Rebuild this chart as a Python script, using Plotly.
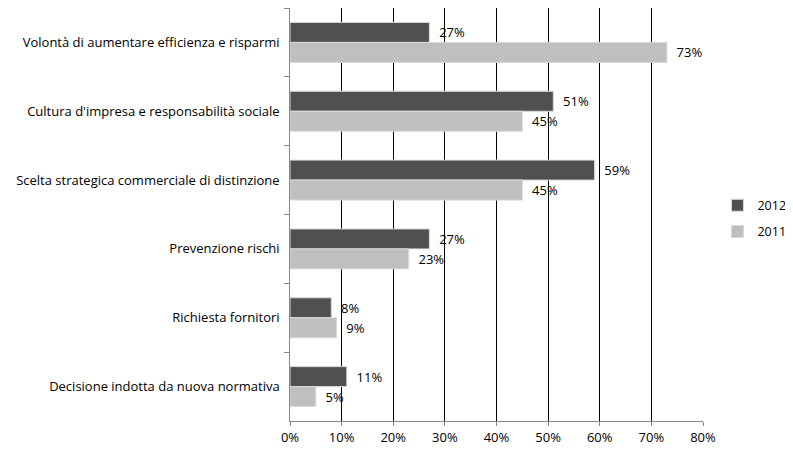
import plotly.graph_objects as go

categorie = [
    "Volontà di aumentare efficienza e risparmi",
    "Cultura d'impresa e responsabilità sociale",
    "Scelta strategica commerciale di distinzione",
    "Prevenzione rischi",
    "Richiesta fornitori",
    "Decisione indotta da nuova normativa",
]
valori_2012 = [27, 51, 59, 27, 8, 11]
valori_2011 = [73, 45, 45, 23, 9, 5]
tick_x = [0, 10, 20, 30, 40, 50, 60, 70, 80]

fig = go.Figure()
fig.add_trace(go.Bar(
    y=categorie, x=valori_2012, name="2012", orientation="h", legendgroup="a",
    marker=dict(color="#505050", line=dict(color="#d9d9d9", width=1)),
    text=[f"\u00a0\u00a0{v}%" for v in valori_2012],
    textposition="outside", cliponaxis=False,
))
fig.add_trace(go.Bar(
    y=categorie, x=valori_2011, name="2011", orientation="h", legendgroup="b",
    marker=dict(color="#bfbfbf", line=dict(color="#d9d9d9", width=1)),
    text=[f"\u00a0\u00a0{v}%" for v in valori_2011],
    textposition="outside", cliponaxis=False,
))

# la pagina ha un margine di 8px: figura ridotta di conseguenza
fig.update_layout(
    width=785, height=443,
    margin=dict(l=282, r=90, t=0, b=30, autoexpand=False),
    paper_bgcolor="white", plot_bgcolor="white",
    font=dict(family="Open Sans", size=13, color="black"),
    barmode="group", bargap=0.42, bargroupgap=0,
    uniformtext=dict(minsize=12, mode="show"),
    legend=dict(x=1.035, y=0.49, xanchor="left", yanchor="middle",
                traceorder="grouped", font=dict(size=12.5),
                itemwidth=30, tracegroupgap=7),
)
fig.update_xaxes(
    range=[0, 80], tickvals=tick_x, ticktext=[f"{v}%" for v in tick_x],
    showgrid=True, gridcolor="black", gridwidth=1,
    showline=True, linecolor="#868686", linewidth=1,
    ticks="outside", ticklen=4, tickcolor="#868686",
    zeroline=False, fixedrange=True, automargin=False,
)
fig.update_yaxes(
    autorange="reversed", showgrid=False,
    showline=True, linecolor="#868686", linewidth=1,
    ticks="outside", ticklen=5, tickcolor="#868686", tickson="boundaries",
    ticksuffix="  ", automargin=False,
)

fig.write_html("out.html")
